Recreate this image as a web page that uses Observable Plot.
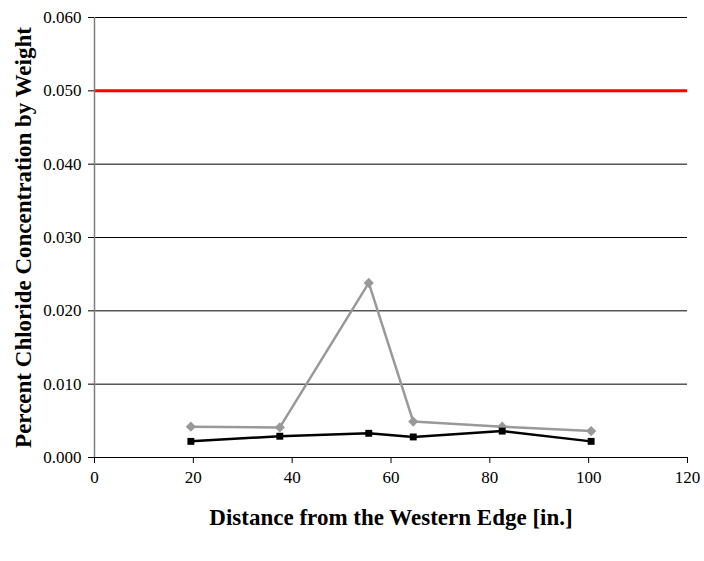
<!DOCTYPE html>
<html>
<head>
<meta charset="utf-8">
<script src="https://cdn.jsdelivr.net/npm/d3@7"></script>
<script src="https://cdn.jsdelivr.net/npm/@observablehq/plot@0.6"></script>
<style>
  html, body { margin: 0; padding: 0; background: white; }
</style>
</head>
<body>
<div id="chart"></div>
<script>
const distances = [19.5, 37.5, 55.5, 64.5, 82.5, 100.5];
const graySeries = [0.0042, 0.0041, 0.0238, 0.0049, 0.0042, 0.0036];
const blackSeries = [0.0022, 0.0029, 0.0033, 0.0028, 0.0036, 0.0022];
const limitValue = [0.05];
const yTicks = [0, 0.01, 0.02, 0.03, 0.04, 0.05, 0.06];
const xTicks = [0, 20, 40, 60, 80, 100, 120];
const yLabel = "Percent Chloride Concentration by Weight";
const xLabel = "Distance from the Western Edge [in.]";

const grayData = distances.map((d, i) => ({x: d, y: graySeries[i]}));
const blackData = distances.map((d, i) => ({x: d, y: blackSeries[i]}));

const chart = Plot.plot({
  width: 704,
  height: 561,
  marginLeft: 94,
  marginRight: 17,
  marginTop: 17,
  marginBottom: 104,
  x: {domain: [0, 120]},
  y: {domain: [0, 0.06]},
  style: {fontFamily: "'Liberation Serif', 'Times New Roman', serif", fontSize: "17px", background: "white", color: "black"},
  marks: [
    Plot.ruleY(yTicks.slice(1), {stroke: "black", strokeWidth: 1}),
    Plot.ruleY(limitValue, {stroke: "#ff0000", strokeWidth: 3}),
    Plot.ruleX([0], {stroke: "#808080", strokeWidth: 1.5}),
    Plot.ruleY([0], {stroke: "black", strokeWidth: 1}),
    Plot.line(grayData, {x: "x", y: "y", stroke: "#999999", strokeWidth: 2.5}),
    Plot.dot(grayData, {x: "x", y: "y", symbol: "diamond2", fill: "#999999", stroke: "none", r: 4.6}),
    Plot.line(blackData, {x: "x", y: "y", stroke: "black", strokeWidth: 2.5}),
    Plot.dot(blackData, {x: "x", y: "y", symbol: "square", fill: "black", stroke: "none", r: 3.9}),
    Plot.axisY({ticks: yTicks, tickFormat: d3.format(".3f"), tickSize: 6, tickPadding: 7, label: null, fontSize: 17}),
    Plot.axisX({ticks: xTicks, tickSize: 6, tickPadding: 7, label: null, fontSize: 17}),
    Plot.text([yLabel], {frameAnchor: "left", rotate: -90, dx: -71, text: d => d, fontWeight: "bold", fontSize: 23, textAnchor: "middle"}),
    Plot.text([xLabel], {frameAnchor: "bottom", dy: 67, text: d => d, fontWeight: "bold", fontSize: 23, textAnchor: "middle"})
  ]
});
document.getElementById("chart").appendChild(chart);
</script>
</body>
</html>
